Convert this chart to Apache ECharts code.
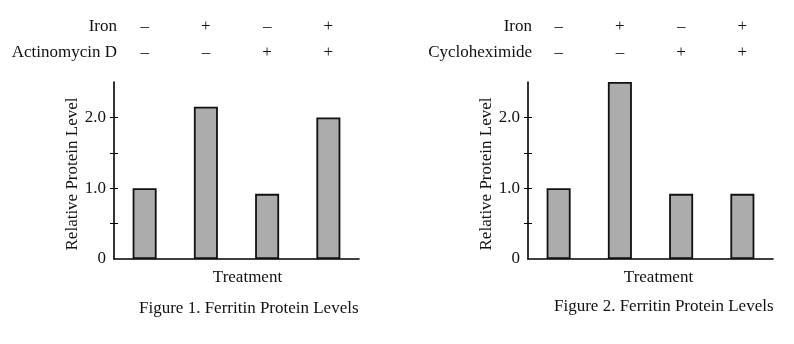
<!DOCTYPE html>
<html>
<head>
<meta charset="utf-8">
<script src="https://cdn.jsdelivr.net/npm/echarts@6/dist/echarts.min.js"></script>
<style>
html,body{margin:0;padding:0;background:#fff;}
#chart{width:794px;height:344px;}
</style>
</head>
<body>
<div id="chart"></div>
<script>
var categories = ['T1', 'T2', 'T3', 'T4'];
var iron = ['\u2013', '+', '\u2013', '+'];
var actinomycin = ['\u2013', '\u2013', '+', '+'];
var cycloheximide = ['\u2013', '\u2013', '+', '+'];
var fig1Values = [1.0, 2.15, 0.92, 2.0];
var fig2Values = [1.0, 2.5, 0.92, 0.92];
var yLabelValues = [0, 1, 2];
var yTickValues = [0.5, 1, 1.5, 2];
var fig1Title = 'Figure 1. Ferritin Protein Levels';
var fig2Title = 'Figure 2. Ferritin Protein Levels';

var FONT = '"Liberation Serif", "Times New Roman", serif';
var FS = 17;
var chart = echarts.init(document.getElementById('chart'), null, {renderer: 'canvas'});

function fmtY(v) { return v === 0 ? '0' : v.toFixed(1); }

var grids = [
  {left: 114, top: 82, width: 245, height: 177},
  {left: 528, top: 82, width: 245, height: 177}
];

function mainX(gi, treatGapLeft) {
  return {
    type: 'category', gridIndex: gi, data: categories, position: 'bottom',
    axisLine: {lineStyle: {color: '#000', width: 1.6}},
    axisTick: {show: false}, axisLabel: {show: false},
    name: 'Treatment', nameLocation: 'middle', nameGap: 10,
    nameTextStyle: {fontFamily: FONT, fontSize: FS, color: '#111', padding: [0, 0, 0, treatGapLeft]}
  };
}
function rowX(gi, labels, offset) {
  return {
    type: 'category', gridIndex: gi, data: labels, position: 'top', offset: offset,
    axisLine: {show: false}, axisTick: {show: false},
    axisLabel: {fontFamily: FONT, fontSize: FS, color: '#111', margin: 0, verticalAlign: 'middle', interval: 0}
  };
}
function mainY(gi, gap) {
  return {
    type: 'value', gridIndex: gi, min: 0, max: 2.5, interval: 0.5,
    axisLine: {show: true, lineStyle: {color: '#000', width: 1.6}},
    axisTick: {show: true, inside: false, length: 4, lineStyle: {color: '#000', width: 1}, customValues: yTickValues},
    axisLabel: {fontFamily: FONT, fontSize: FS, color: '#111', margin: 8, customValues: yLabelValues, formatter: fmtY},
    splitLine: {show: false},
    name: 'Relative Protein Level', nameLocation: 'middle', nameGap: gap, nameRotate: 90,
    nameTextStyle: {fontFamily: FONT, fontSize: FS, color: '#111', padding: [0, 7, 0, 0]}
  };
}
function innerY(gi) {
  return {
    type: 'value', gridIndex: gi, min: 0, max: 2.5, interval: 0.5, position: 'left',
    axisLine: {show: false},
    axisTick: {show: true, inside: true, length: 4, lineStyle: {color: '#000', width: 1}, customValues: yTickValues},
    axisLabel: {show: false}, splitLine: {show: false}
  };
}
function barSeries(xi, yi, data) {
  return {
    type: 'bar', xAxisIndex: xi, yAxisIndex: yi, data: data, barWidth: 24,
    itemStyle: {color: '#acacac', borderColor: '#111', borderWidth: 1.8},
    silent: true, animation: false
  };
}
function txt(t, opts) {
  var o = {text: t, padding: 0, textStyle: {fontFamily: FONT, fontSize: FS, fontWeight: 'normal', color: '#111'}};
  for (var k in opts) o[k] = opts[k];
  return o;
}

chart.setOption({
  animation: false,
  backgroundColor: '#fff',
  title: [
    txt(fig1Title, {left: 139, top: 300}),
    txt(fig2Title, {left: 554, top: 298}),
    txt('Iron', {right: 794 - 117, top: 18}),
    txt('Actinomycin D', {right: 794 - 117, top: 44}),
    txt('Iron', {right: 794 - 532, top: 18}),
    txt('Cycloheximide', {right: 794 - 532, top: 44})
  ],
  grid: grids,
  xAxis: [
    mainX(0, 22),
    rowX(0, iron, 55),
    rowX(0, actinomycin, 29),
    mainX(1, 16),
    rowX(1, iron, 55),
    rowX(1, cycloheximide, 29)
  ],
  yAxis: [mainY(0, 31), innerY(0), mainY(1, 33), innerY(1)],
  series: [
    barSeries(0, 0, fig1Values),
    barSeries(3, 2, fig2Values)
  ]
});
</script>
</body>
</html>
